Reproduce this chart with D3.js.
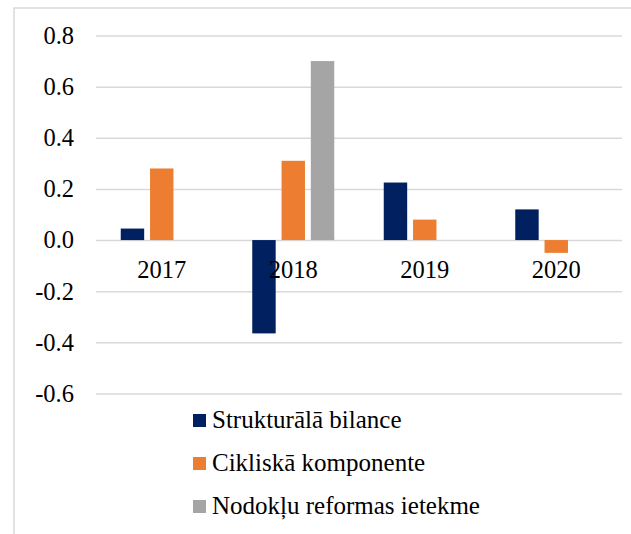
<!DOCTYPE html>
<html>
<head>
<meta charset="utf-8">
<script src="https://cdn.jsdelivr.net/npm/d3@7"></script>
<style>
  html, body { margin: 0; padding: 0; background: #fff; }
  svg { display: block; }
</style>
</head>
<body>
<svg id="chart" width="631" height="534"></svg>
<script>
// Budget balance decomposition by year
const categories = ["2017", "2018", "2019", "2020"];
const seriesNames = ["Strukturālā bilance", "Cikliskā komponente", "Nodokļu reformas ietekme"];
const structural = [0.045, -0.365, 0.225, 0.12];
const cyclical = [0.28, 0.31, 0.08, -0.05];
const taxReform = [null, 0.70, null, null];
const yTicks = [-0.6, -0.4, -0.2, 0.0, 0.2, 0.4, 0.6, 0.8];
const colors = ["#002060", "#ED7D31", "#A5A5A5"];

const seriesValues = [structural, cyclical, taxReform];
const FONT = "Liberation Serif";

const svg = d3.select("#chart");
const W = 631, H = 534;

// chart frame (extends past the right and bottom edges)
svg.append("rect")
  .attr("x", 14).attr("y", 8)
  .attr("width", W + 20).attr("height", H + 20)
  .attr("fill", "#fff")
  .attr("stroke", "#d9d9d9")
  .attr("stroke-width", 1.5);

const plot = { left: 96, right: 622, top: 35.5, bottom: 393.5 };

const y = d3.scaleLinear().domain([-0.6, 0.8]).range([plot.bottom, plot.top]);
const x0 = d3.scaleBand().domain(categories).range([plot.left, plot.right]).padding(0);
const groupW = 82;
const x1 = d3.scaleBand().domain(d3.range(seriesNames.length))
  .range([(x0.bandwidth() - groupW) / 2, (x0.bandwidth() + groupW) / 2])
  .paddingInner(0.2).paddingOuter(0);

const fmt = d3.formatLocale({ decimal: ".", thousands: ",", grouping: [3], currency: ["", ""], minus: "-" }).format(".1f");

// horizontal gridlines and value labels
const yAxis = d3.axisLeft(y).tickValues(yTicks).tickFormat(fmt).tickSize(-(plot.right - plot.left)).tickPadding(22);
const gy = svg.append("g").attr("transform", `translate(${plot.left},0)`).call(yAxis)
  .attr("font-family", FONT).attr("font-size", 24.5);
gy.select(".domain").remove();
gy.selectAll(".tick line").attr("stroke", "#d9d9d9").attr("stroke-width", 1.5);
gy.selectAll(".tick text").style("font-family", FONT).style("font-size", "24.5px").attr("fill", "#000");

// bars
const groups = svg.append("g").selectAll("g")
  .data(categories)
  .join("g")
  .attr("transform", d => `translate(${x0(d)},0)`);

groups.selectAll("rect")
  .data((c, ci) => seriesValues.map((vals, si) => ({ si, v: vals[ci] })).filter(d => d.v !== null))
  .join("rect")
  .attr("x", d => x1(d.si))
  .attr("width", x1.bandwidth())
  .attr("y", d => Math.min(y(d.v), y(0)))
  .attr("height", d => Math.abs(y(d.v) - y(0)))
  .attr("fill", d => colors[d.si]);

// category labels sit just below the zero line
const xAxis = d3.axisBottom(x0).tickSize(0).tickPadding(21);
const gx = svg.append("g").attr("transform", `translate(0,${y(0)})`).call(xAxis)
  .attr("font-family", FONT).attr("font-size", 24.5);
gx.select(".domain").remove();
gx.selectAll(".tick text").style("font-family", FONT).style("font-size", "24.5px").attr("fill", "#000");

// legend
const legend = svg.append("g").attr("transform", "translate(193,414)");
const rows = legend.selectAll("g").data(seriesNames).join("g")
  .attr("transform", (d, i) => `translate(0,${i * 43})`);
rows.append("rect").attr("width", 13).attr("height", 13).attr("fill", (d, i) => colors[i]);
rows.append("text").attr("x", 19).attr("y", 13.5)
  .style("font-family", FONT).style("font-size", "25px").attr("fill", "#000")
  .text(d => d);
</script>
</body>
</html>
